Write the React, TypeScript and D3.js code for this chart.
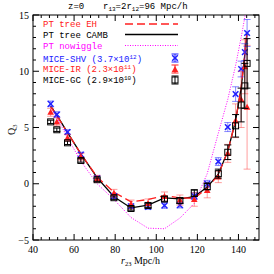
import React from "react";
import * as d3 from "d3";

// r23 bin centres (Mpc/h)
const r23 = [48.6, 51.6, 56.8, 63.3, 71.2, 79.4, 87.7, 96.0, 104.0, 111.5, 118.5, 124.8, 130.2, 134.8, 138.6, 141.3, 143.1, 144.2];

// MICE-SHV
const shvQ3 = [7.1, 6.15, 4.6, 2.6, 0.5, -1.1, -2.0, -2.07, -1.93, -1.9, -1.1, 0.0, 1.97, 5.04, 7.97, 10.2, 11.7, 13.4];
const shvErr = [0.25, 0.25, 0.2, 0.2, 0.2, 0.2, 0.2, 0.2, 0.25, 0.25, 0.3, 0.3, 0.35, 0.4, 0.65, 0.7, 0.75, 1.2];
// MICE-IR
const irQ3 = [6.35, 5.5, 4.06, 2.4, 0.45, -0.85, -1.85, -1.75, -1.13, -1.45, -1.4, -0.6, 0.6, 2.7, 5.6, 7.5, 10.4, 6.8];
const irErr = [0.35, 0.35, 0.3, 0.3, 0.3, 0.35, 0.4, 0.4, 0.4, 0.45, 0.6, 0.65, 0.5, 0.8, 1.5, 2.5, 2.4, 5.5];
// MICE-GC
const gcQ3 = [5.5, 4.8, 3.64, 2.07, 0.36, -1.24, -2.2, -1.93, -1.36, -1.5, -0.83, -0.24, 0.9, 2.8, 5.15, 7.0, 8.7, 10.7];
const gcErr = [0.15, 0.15, 0.15, 0.15, 0.15, 0.15, 0.15, 0.2, 0.2, 0.25, 0.3, 0.3, 0.4, 0.65, 1.0, 1.5, 2.0, 2.2];

// theory curves
const ptCamb = [6.9, 6.1, 4.55, 2.65, 0.55, -1.15, -2.15, -1.9, -1.25, -1.35, -1.15, -0.3, 0.85, 2.9, 5.6, 8.5, 11.5, 13.5];
const ptEh = [6.85, 6.05, 4.55, 2.65, 0.6, -0.75, -1.6, -1.4, -1.05, -1.25, -1.3, -0.4, 0.8, 2.9, 5.6, 8.5, 11.5, 13.5];
const ptNowiggle = [6.8, 5.9, 4.1, 2.0, 0.0, -1.4, -3.0, -3.95, -4.0, -3.05, -1.75, 0.9, 4.5, 7.5, 10.5, 13.0, 14.8, 16.0];

const xTickLabels = [40, 60, 80, 100, 120, 140];
const yTickLabels = [-5, 0, 5, 10, 15];

const RED = "#ff2020";
const BLUE = "#2020ff";
const MAG = "#ff00ff";
const SERIF = "'Liberation Serif', 'DejaVu Serif', serif";
const MONO = "'Liberation Mono', 'DejaVu Sans Mono', monospace";

export default function App() {
  const x = d3.scaleLinear().domain([40, 150]).range([33, 259]);
  const y = d3.scaleLinear().domain([-5, 15]).range([240, 15]);
  const [x0, x1] = x.range();
  const [y0, y1] = y.range();

  const line = (vals: number[]) =>
    d3.line<number>().x((_, i) => x(r23[i])).y((v) => y(v))(vals) || "";

  const xMinor = d3.range(40, 150.1, 4);
  const yMinor = d3.range(-5, 15.1, 1);

  const errBar = (cx: number, v: number, e: number, color: string, key: string) => {
    const t = y(v + e), b = y(v - e);
    return (
      <g key={key} stroke={color} strokeWidth={1} fill="none">
        <line x1={cx} x2={cx} y1={t} y2={b} />
        <line x1={cx - 3.5} x2={cx + 3.5} y1={t} y2={t} />
        <line x1={cx - 3.5} x2={cx + 3.5} y1={b} y2={b} />
      </g>
    );
  };
  const cross = (cx: number, cy: number, key: string) => (
    <g key={key} stroke={BLUE} strokeWidth={1.5}>
      <line x1={cx - 2.8} x2={cx + 2.8} y1={cy - 2.8} y2={cy + 2.8} />
      <line x1={cx - 2.8} x2={cx + 2.8} y1={cy + 2.8} y2={cy - 2.8} />
    </g>
  );
  const tri = (cx: number, cy: number, key: string) => (
    <path key={key} d={`M${cx},${cy - 3.5}L${cx + 3.3},${cy + 2.5}L${cx - 3.3},${cy + 2.5}Z`} fill={RED} />
  );
  const sq = (cx: number, cy: number, key: string) => (
    <rect key={key} x={cx - 3} y={cy - 3} width={6} height={6} fill="none" stroke="#000" strokeWidth={1} />
  );

  return (
    <svg width={274} height={274} style={{ position: "absolute", left: 0, top: 0, background: "#fff" }}>
      <defs>
        <clipPath id="plot">
          <rect x={x0} y={y1} width={x1 - x0} height={y0 - y1} />
        </clipPath>
      </defs>
      {/* title */}
      <text x={68} y={9} fontFamily={MONO} fontSize={9} fill="#000">z=0</text>
      <text x={103} y={9} fontFamily={MONO} fontSize={9} fill="#000">
        r<tspan fontSize={6} dy={2}>13</tspan><tspan dy={-2}>=2r</tspan><tspan fontSize={6} dy={2}>12</tspan><tspan dy={-2}>=96 Mpc/h</tspan>
      </text>

      {/* frame */}
      <rect x={x0} y={y1} width={x1 - x0} height={y0 - y1} fill="none" stroke="#000" strokeWidth={1} />
      {/* ticks */}
      <g stroke="#000" strokeWidth={1}>
        {xMinor.map((v) => {
          const major = xTickLabels.includes(v);
          const L = major ? 6 : 3;
          return (
            <g key={"xm" + v}>
              <line x1={x(v)} x2={x(v)} y1={y0} y2={y0 - L} />
              <line x1={x(v)} x2={x(v)} y1={y1} y2={y1 + L} />
            </g>
          );
        })}
        {yMinor.map((v) => {
          const major = yTickLabels.includes(v);
          const L = major ? 6 : 3;
          return (
            <g key={"ym" + v}>
              <line x1={x0} x2={x0 + L} y1={y(v)} y2={y(v)} />
              <line x1={x1} x2={x1 - L} y1={y(v)} y2={y(v)} />
            </g>
          );
        })}
      </g>
      {xTickLabels.map((v) => (
        <text key={"xl" + v} x={x(v)} y={253} textAnchor="middle" fontFamily={SERIF} fontSize={10}>{v}</text>
      ))}
      {yTickLabels.map((v) => (
        <text key={"yl" + v} x={29} y={y(v) + 3.5} textAnchor="end" fontFamily={SERIF} fontSize={10}>
          {v < 0 ? "\u2212" + Math.abs(v) : v}
        </text>
      ))}
      {/* axis labels */}
      <text x={121} y={264} fontFamily={SERIF} fontSize={10}>
        <tspan fontStyle="italic">r</tspan><tspan fontSize={6.5} dy={2}>23</tspan><tspan dy={-2}> Mpc/h</tspan>
      </text>
      <text transform={`translate(15,${y(4.8)}) rotate(-90)`} textAnchor="middle" fontFamily={SERIF} fontSize={10}>
        Q<tspan fontSize={6.5} dy={2}>3</tspan>
      </text>

      <g clipPath="url(#plot)">
        <path d={line(ptNowiggle)} fill="none" stroke={MAG} strokeWidth={1} strokeDasharray="1,1.5" />
        <path d={line(ptCamb)} fill="none" stroke="#000" strokeWidth={1.3} />
        <path d={line(ptEh)} fill="none" stroke={RED} strokeWidth={1.3} strokeDasharray="8,4" />
        {r23.map((r, i) => errBar(x(r), shvQ3[i], shvErr[i], "rgba(40,40,255,0.55)", "be" + i))}
        {r23.map((r, i) => cross(x(r), y(shvQ3[i]), "bm" + i))}
        {r23.map((r, i) => errBar(x(r), irQ3[i], irErr[i], "rgba(255,40,40,0.45)", "re" + i))}
        {r23.map((r, i) => tri(x(r), y(irQ3[i]), "rm" + i))}
        {r23.map((r, i) => errBar(x(r), gcQ3[i], gcErr[i], "#000", "ge" + i))}
        {r23.map((r, i) => sq(x(r), y(gcQ3[i]), "gm" + i))}
      </g>

      {/* legend */}
      <g fontFamily={MONO} fontSize={9}>
        <text x={43} y={27} fill={RED}>PT tree EH</text>
        <line x1={125} x2={178} y1={24} y2={24} stroke={RED} strokeWidth={1.3} strokeDasharray="8,4" />
        <text x={43} y={37.5} fill="#000">PT tree CAMB</text>
        <line x1={125} x2={178} y1={34.5} y2={34.5} stroke="#000" strokeWidth={1.3} />
        <text x={43} y={48.5} fill={MAG}>PT nowiggle</text>
        <line x1={125} x2={178} y1={45.5} y2={45.5} stroke={MAG} strokeWidth={1} strokeDasharray="1,1.5" />
        <text x={43} y={61.5} fill={BLUE}>
          MICE-SHV (3.7×10<tspan fontSize={6} dy={-3}>12</tspan><tspan dy={3}>)</tspan>
        </text>
        <g stroke={BLUE} strokeWidth={1}>
          <line x1={175} x2={175} y1={54} y2={62} />
          <line x1={171.5} x2={178.5} y1={54} y2={54} />
          <line x1={171.5} x2={178.5} y1={62} y2={62} />
        </g>
        {cross(175, 58, "lbm")}
        <text x={43} y={72} fill={RED}>
          MICE-IR (2.3×10<tspan fontSize={6} dy={-3}>11</tspan><tspan dy={3}>)</tspan>
        </text>
        <g stroke={RED} strokeWidth={1}>
          <line x1={175} x2={175} y1={65} y2={73} />
          <line x1={171.5} x2={178.5} y1={65} y2={65} />
          <line x1={171.5} x2={178.5} y1={73} y2={73} />
        </g>
        {tri(175, 69.5, "lrm")}
        <text x={43} y={83} fill="#000">
          MICE-GC (2.9×10<tspan fontSize={6} dy={-3}>10</tspan><tspan dy={3}>)</tspan>
        </text>
        <g stroke="#000" strokeWidth={1}>
          <line x1={175} x2={175} y1={76} y2={84} />
          <line x1={171.5} x2={178.5} y1={76} y2={76} />
          <line x1={171.5} x2={178.5} y1={84} y2={84} />
        </g>
        {sq(175, 80, "lgm")}
      </g>
    </svg>
  );
}
